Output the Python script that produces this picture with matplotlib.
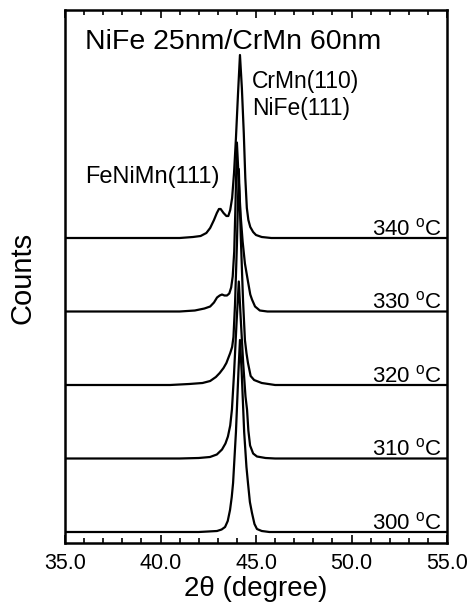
import numpy as np
import matplotlib
matplotlib.use("Agg")
import matplotlib.pyplot as plt
from matplotlib.ticker import MultipleLocator, FormatStrFormatter

plt.rcParams['font.family'] = ['Liberation Sans', 'DejaVu Sans']
plt.rcParams['mathtext.default'] = 'regular'

# XRD scans, counts above each baseline
temps = ['300', '310', '320', '330', '340']

x300 = [35.0, 42.0, 42.5, 42.96, 43.2, 43.38, 43.52, 43.64, 43.73, 43.8, 43.95, 44.08, 44.16,
        44.25, 44.38, 44.5, 44.58, 44.68, 44.79, 44.92, 45.05, 45.3, 45.7, 55.0]
y300 = [0, 0, 0.5, 1, 2.5, 5, 11, 22, 35, 49, 100, 160, 192,
        160, 100, 65, 49, 30, 19, 8, 3, 1, 0, 0]

x310 = [35.0, 41.0, 42.0, 42.59, 42.95, 43.22, 43.4, 43.53, 43.65, 43.74, 43.85, 43.98, 44.1,
        44.2, 44.33, 44.45, 44.53, 44.6, 44.69, 44.85, 45.05, 45.5, 46.0, 55.0]
y310 = [0, 0, 0.5, 1.5, 4, 9, 15, 22, 33, 49, 85, 135, 177,
        140, 95, 62, 49, 28, 13, 5, 2, 0.5, 0, 0]

x320 = [35.0, 40.5, 41.5, 42.2, 42.6, 42.9, 43.1, 43.3, 43.45, 43.55, 43.65, 43.75, 43.82, 43.9,
        44.0, 44.1, 44.2, 44.32, 44.42, 44.5, 44.58, 44.72, 44.9, 45.3, 46.0, 55.0]
y320 = [0, 0, 1, 2, 4, 8, 12, 17, 22, 27, 32, 38, 48, 80,
        140, 216, 150, 85, 45, 32, 22, 9, 5, 2, 0, 0]

x330 = [35.0, 41.0, 41.8, 42.3, 42.6, 42.8, 42.96, 43.1, 43.22, 43.35, 43.48, 43.6, 43.7, 43.78,
        43.86, 43.93, 44.0, 44.1, 44.2, 44.3, 44.42, 44.58, 44.7, 44.79, 44.95, 45.2, 45.6, 55.0]
y330 = [0, 0, 1, 3, 5, 9, 14, 16, 17, 16, 16, 18, 24, 35,
        60, 110, 169, 130, 95, 70, 48, 30, 17, 12, 5, 1, 0, 0]

x340 = [35.0, 41.0, 41.7, 42.1, 42.4, 42.6, 42.8, 42.95, 43.06, 43.15, 43.3, 43.45, 43.55, 43.65,
        43.75, 43.85, 43.95, 44.06, 44.16, 44.26, 44.36, 44.44, 44.52, 44.6, 44.7, 44.85, 45.0,
        45.3, 45.8, 55.0]
y340 = [0, 0, 1, 2, 5, 10, 18, 25, 29, 29, 25, 22, 22, 28,
        40, 65, 100, 145, 183, 150, 105, 60, 30, 18, 11, 6, 3,
        1, 0, 0]

xs = [x300, x310, x320, x330, x340]
ys = [y300, y310, y320, y330, y340]

base, step = 11, 73.5

fig = plt.figure(figsize=(4.68, 6.04), dpi=100)
ax = fig.add_axes([65/468, 61/604, 382/468, 533/604])

for i, (x, y, t) in enumerate(zip(xs, ys, temps)):
    off = base + step * i
    ax.plot(x, np.array(y) + off, color='k', lw=1.6)
    ax.text(54.75, off + 3, t + " $^{o}$C", ha='right', va='baseline', fontsize=16)

ax.set_xlim(35, 55)
ax.set_ylim(0, 533)
ax.xaxis.set_major_locator(MultipleLocator(5))
ax.xaxis.set_minor_locator(MultipleLocator(1))
ax.xaxis.set_major_formatter(FormatStrFormatter('%.1f'))
ax.set_yticks([])
ax.tick_params(axis='x', which='both', direction='in', top=True, labelsize=15.5, pad=7, width=1.2)
ax.tick_params(axis='x', which='major', length=6)
ax.tick_params(axis='x', which='minor', length=3.5)
for s in ax.spines.values():
    s.set_linewidth(1.8)

ax.set_xlabel("2θ (degree)", fontsize=20, labelpad=2)
ax.set_ylabel("Counts", fontsize=21)
ax.yaxis.set_label_coords(-0.11, 0.497)
ax.yaxis.label.set_verticalalignment('center')

ax.text(0.052, 0.927, "NiFe 25nm/CrMn 60nm", transform=ax.transAxes, fontsize=20.5, va='baseline')
ax.text(44.79, 455, "CrMn(110)", fontsize=16.5, va='baseline')
ax.text(44.79, 428, "NiFe(111)", fontsize=16.5, va='baseline')
ax.text(36.05, 360, "FeNiMn(111)", fontsize=17, va='baseline')

fig.savefig("out.png", dpi=100)
